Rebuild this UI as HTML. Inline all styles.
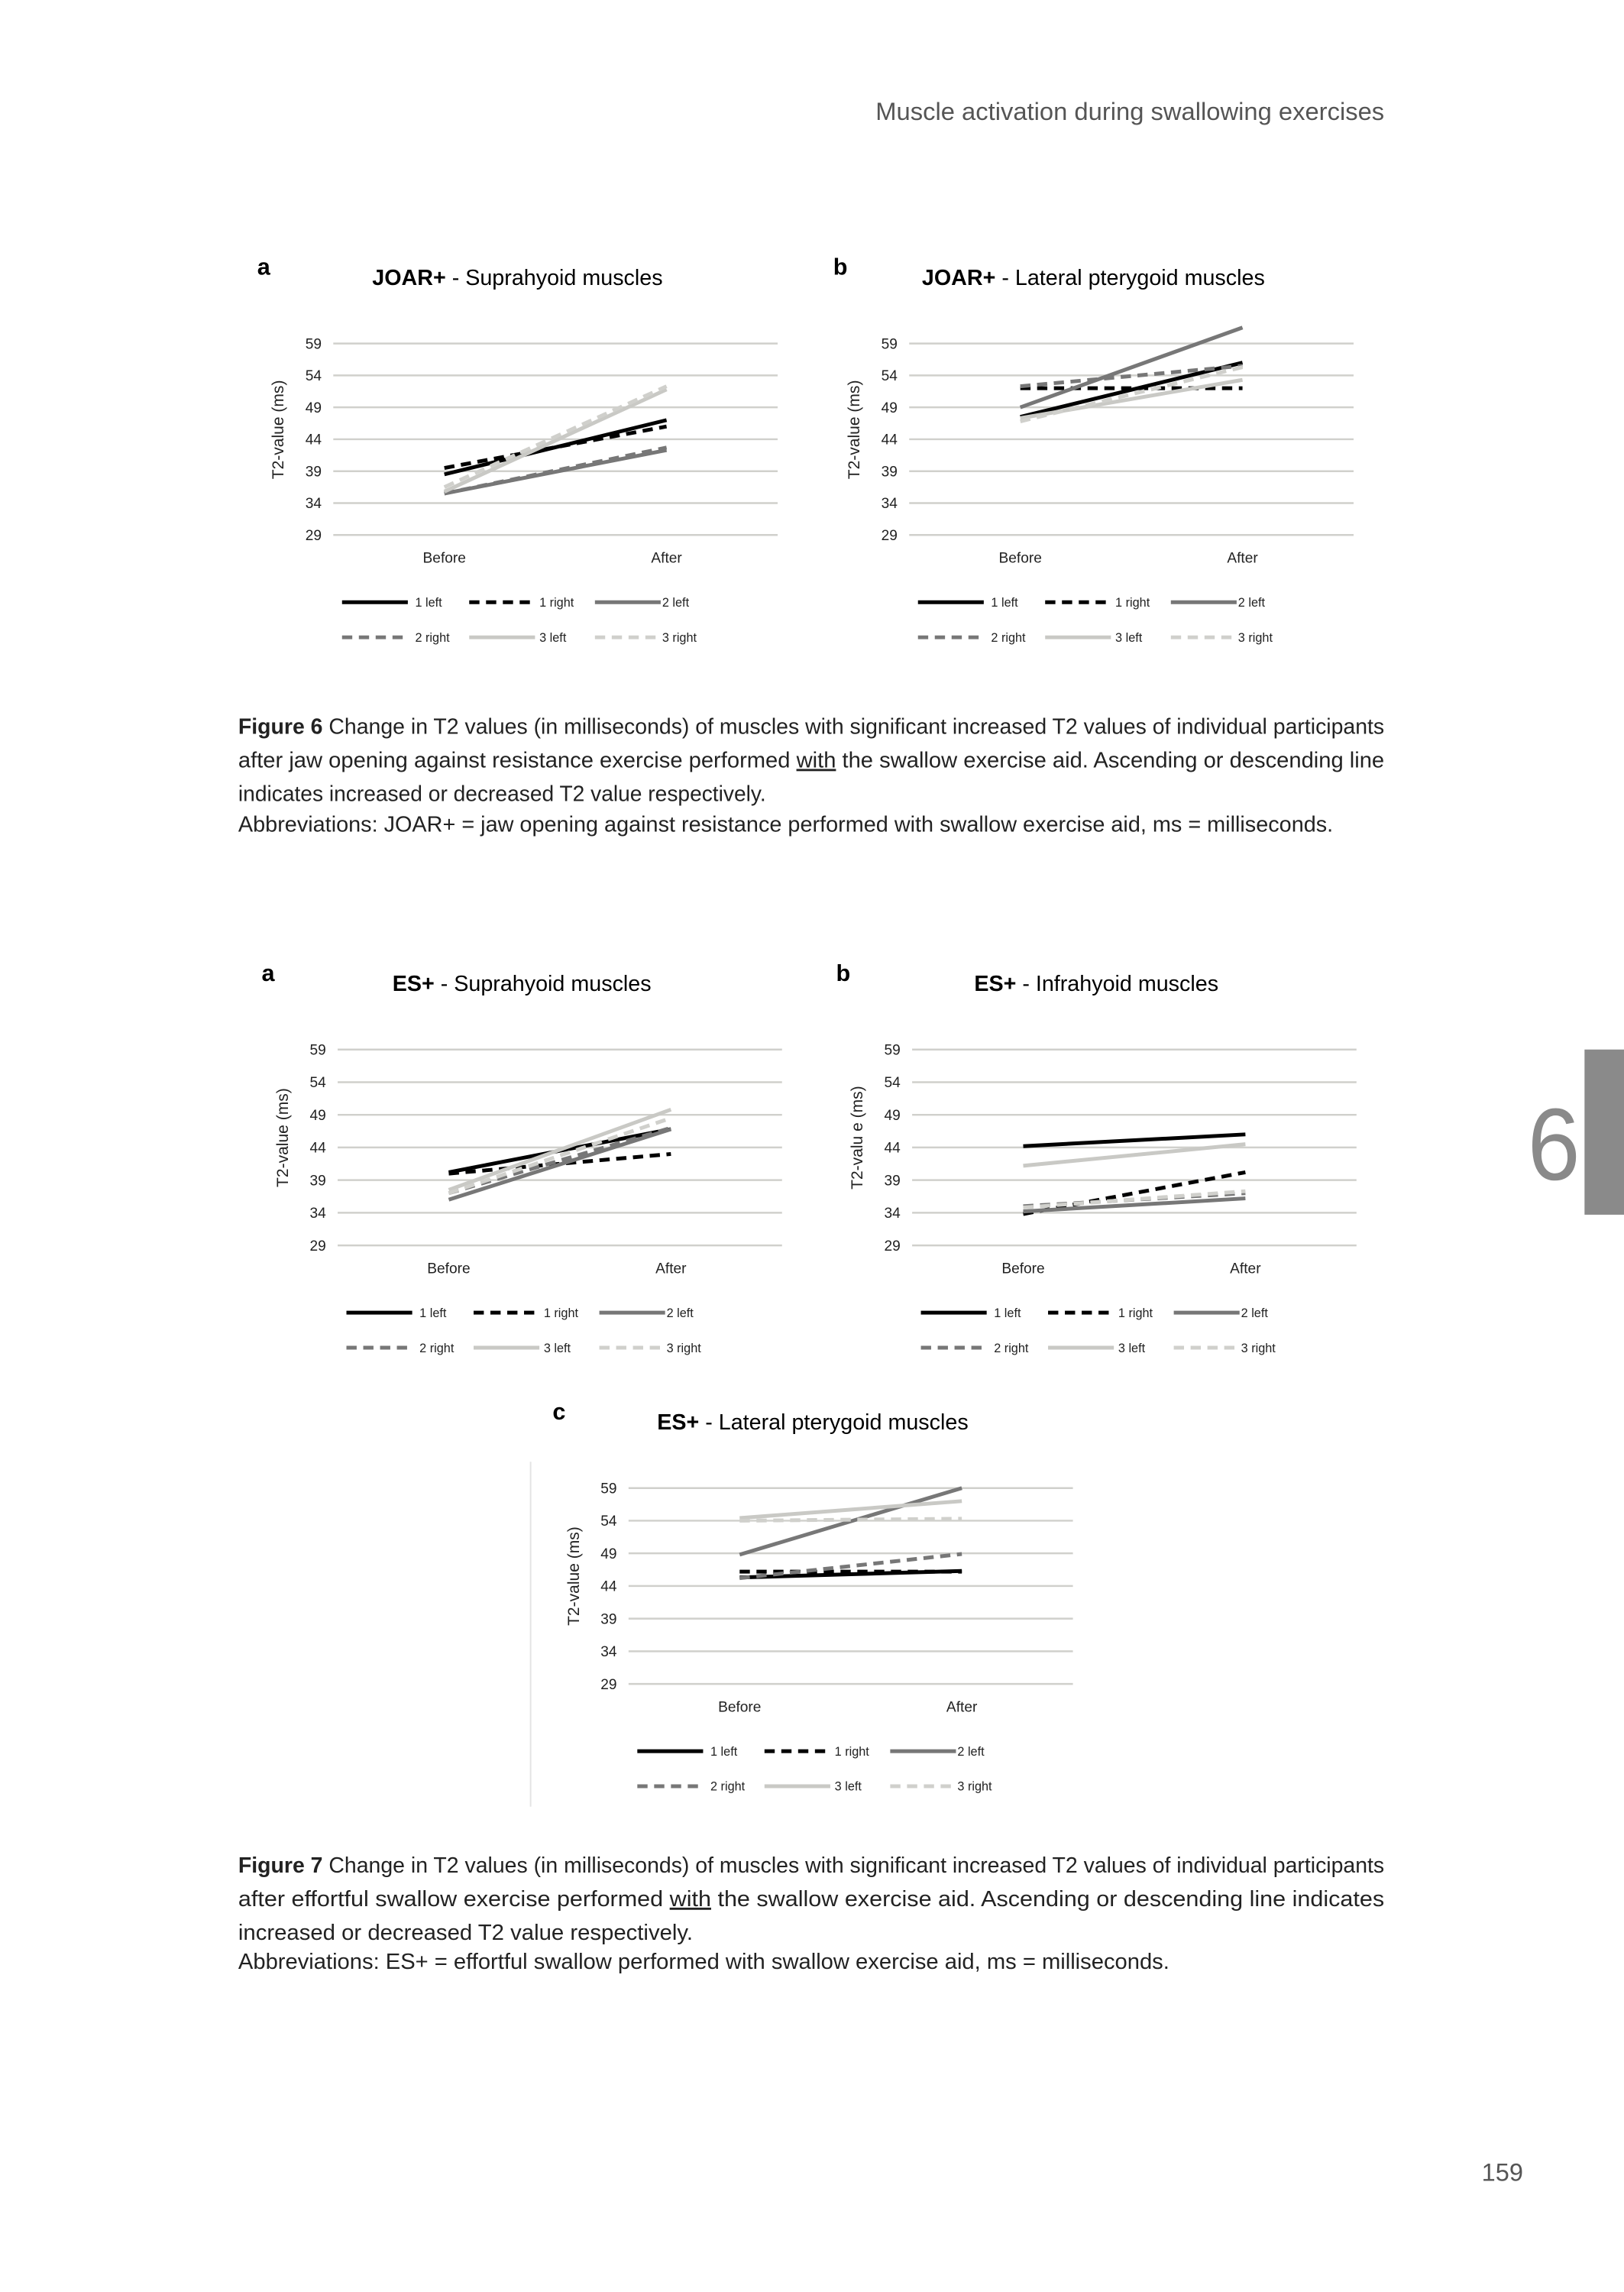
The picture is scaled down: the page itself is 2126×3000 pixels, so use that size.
<!DOCTYPE html>
<html><head><meta charset="utf-8"><style>
html,body{margin:0;padding:0;background:#fff}
svg{display:block}
</style></head><body>
<svg id="page" xmlns="http://www.w3.org/2000/svg" width="2126" height="3000" viewBox="0 0 1111 1568" preserveAspectRatio="none" font-family="Liberation Sans, sans-serif">
<text x="947" y="82" text-anchor="end" font-size="17" fill="#555" textLength="348" lengthAdjust="spacingAndGlyphs">Muscle activation during swallowing exercises</text>
<rect x="1084" y="718" width="27" height="113" fill="#8a8a8a"/>
<text x="1063" y="807" text-anchor="middle" font-size="70" fill="#8a8a8a" textLength="36" lengthAdjust="spacingAndGlyphs">6</text>
<text x="1042" y="1492" text-anchor="end" font-size="17" fill="#555">159</text>
<line x1="363" y1="1000" x2="363" y2="1236" stroke="#e4e4e4" stroke-width="1"/>
<g id="charts"></g>
<g font-size="15" fill="#222">
<text x="163" y="502" textLength="784" lengthAdjust="spacingAndGlyphs"><tspan font-weight="bold">Figure 6</tspan> Change in T2 values (in milliseconds) of muscles with significant increased T2 values of individual participants</text>
<text x="163" y="525" textLength="784" lengthAdjust="spacingAndGlyphs">after jaw opening against resistance exercise performed <tspan text-decoration="underline">with</tspan> the swallow exercise aid. Ascending or descending line</text>
<text x="163" y="548" textLength="361" lengthAdjust="spacingAndGlyphs">indicates increased or decreased T2 value respectively.</text>
<text x="163" y="569" textLength="749" lengthAdjust="spacingAndGlyphs">Abbreviations: JOAR+ = jaw opening against resistance performed with swallow exercise aid, ms = milliseconds.</text>
</g>
<g font-size="15" fill="#222">
<text x="163" y="1281" textLength="784" lengthAdjust="spacingAndGlyphs"><tspan font-weight="bold">Figure 7</tspan> Change in T2 values (in milliseconds) of muscles with significant increased T2 values of individual participants</text>
<text x="163" y="1304" textLength="784" lengthAdjust="spacingAndGlyphs">after effortful swallow exercise performed <tspan text-decoration="underline">with</tspan> the swallow exercise aid. Ascending or descending line indicates</text>
<text x="163" y="1327" textLength="311" lengthAdjust="spacingAndGlyphs">increased or decreased T2 value respectively.</text>
<text x="163" y="1347" textLength="637" lengthAdjust="spacingAndGlyphs">Abbreviations: ES+ = effortful swallow performed with swallow exercise aid, ms = milliseconds.</text>
</g>
</svg>
<script>
const categories = ["Before", "After"];
const yTicks = [29, 34, 39, 44, 49, 54, 59];
const seriesNames = ["1 left", "1 right", "2 left", "2 right", "3 left", "3 right"];
const seriesColors = ["#000000", "#000000", "#777777", "#777777", "#c9c9c5", "#d0d0cc"];
const seriesDashed = [false, true, false, true, false, true];

const fig6aValues = [[38.5, 47], [39.5, 46], [35.5, 42.3], [35.5, 42.7], [35.8, 51.8], [36.5, 52.3]];
const fig6bValues = [[47.5, 56], [52, 52], [49, 61.5], [52.3, 55.5], [47.3, 53.3], [46.8, 55.3]];
const fig7aValues = [[40.2, 46.8], [40, 43], [36, 46.8], [37, 47], [37.5, 49.8], [37, 48.5]];
const fig7bValues = [[44.2, 46], [33.8, 40.2], [34.2, 36.2], [35, 37], [41.2, 44.5], [34.8, 37.3]];
const fig7cValues = [[45.3, 46.3], [46.2, 46.2], [48.8, 59], [45.2, 48.9], [54.4, 57], [54, 54.3]];

const NS = "http://www.w3.org/2000/svg";
const root = document.getElementById("charts");
function mk(tag, attrs, parent) {
  const e = document.createElementNS(NS, tag);
  for (const k in attrs) e.setAttribute(k, attrs[k]);
  parent.appendChild(e);
  return e;
}
function chart(id, x0, yTop, letter, bold, rest, values, ytitle) {
  const W = 304, H = (yTop === 718 || yTop === 1018) ? 134 : 131;
  const g = mk("g", {}, root);
  
  
  const yS = v => yTop + H - (v - 29) / 30 * H;
  const xS = i => x0 + W * (0.25 + 0.5 * i);
  const base = yTop + H;
  const lt = mk("text", {x: x0 - 52, y: yTop - 47, "font-size": 16, "font-weight": "bold", fill: "#000"}, g);
  lt.textContent = letter;
  
  
  const t = mk("text", {x: x0 + 126, y: yTop - 40, "font-size": 15, "text-anchor": "middle", fill: "#000"}, g);
  
  
  const b = mk("tspan", {"font-weight": "bold"}, t); b.textContent = bold;
  const r = mk("tspan", {}, t); r.textContent = rest;
  yTicks.forEach(v => {
    const gl = mk("line", {x1: x0, x2: x0 + W, y1: yS(v), y2: yS(v), stroke: "#d0d0cc", "stroke-width": 1.3}, g);
    
    
    const tl = mk("text", {x: x0 - 8, y: yS(v) + 3.5, "font-size": 10, "text-anchor": "end", fill: "#222"}, g);
    tl.textContent = v;
    
    
  });
  const yt = mk("text", {x: 0, y: 0, "font-size": 11, "text-anchor": "middle", fill: "#222", transform: `translate(${x0 - 34},${yTop + H * 0.45}) rotate(-90)`}, g);
  yt.textContent = ytitle;
  
  
  categories.forEach((c, i) => {
    const ct = mk("text", {x: xS(i), y: base + 19, "font-size": 10, "text-anchor": "middle", fill: "#222"}, g);
    ct.textContent = c;
    
    
  });
  values.forEach((vals, s) => {
    const ln = mk("line", {x1: xS(0), y1: yS(vals[0]), x2: xS(1), y2: yS(vals[1]), stroke: seriesColors[s], "stroke-width": 2.6, "stroke-dasharray": seriesDashed[s] ? "7,4.5" : "none"}, g);
    
    
  });
  const colLine = [6, 93, 179], colText = [56, 141, 225];
  seriesNames.forEach((n, s) => {
    const col = s % 3, row = Math.floor(s / 3);
    const ly = base + 46 + row * 24;
    const lg = mk("g", {}, g);
    
    
    mk("line", {x1: x0 + colLine[col], x2: x0 + colLine[col] + 45, y1: ly, y2: ly, stroke: seriesColors[s], "stroke-width": 2.6, "stroke-dasharray": seriesDashed[s] ? "7,4.5" : "none"}, lg);
    const tx = mk("text", {x: x0 + colText[col], y: ly + 3, "font-size": 8.5, fill: "#222"}, lg);
    tx.textContent = n;
  });
}
chart("chart-joar-suprahyoid", 228, 235, "a", "JOAR+", " - Suprahyoid muscles", fig6aValues, "T2-value (ms)");
chart("chart-joar-lateral-pterygoid", 622, 235, "b", "JOAR+", " - Lateral pterygoid muscles", fig6bValues, "T2-value (ms)");
chart("chart-es-suprahyoid", 231, 718, "a", "ES+", " - Suprahyoid muscles", fig7aValues, "T2-value (ms)");
chart("chart-es-infrahyoid", 624, 718, "b", "ES+", " - Infrahyoid muscles", fig7bValues, "T2-valu e (ms)");
chart("chart-es-lateral-pterygoid", 430, 1018, "c", "ES+", " - Lateral pterygoid muscles", fig7cValues, "T2-value (ms)");
</script>
</body></html>
